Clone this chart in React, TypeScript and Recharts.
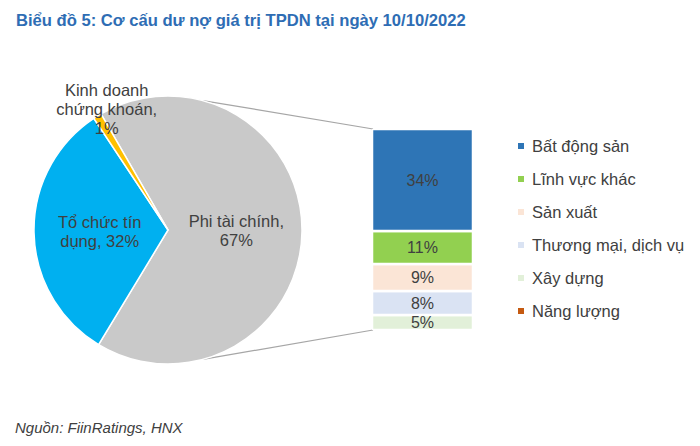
import React from "react";
import { PieChart, Pie, Cell, BarChart, Bar, XAxis, YAxis, LabelList } from "recharts";

// pie: main breakdown
const groupNames = ["Phi tài chính", "Tổ chức tín dụng", "Kinh doanh chứng khoán"];
const groupValues = [67, 32, 1];
const groupColors = ["#C9C9C9", "#00B0F0", "#FFC000"];

// bar: breakdown of "Phi tài chính", top to bottom
const sectorNames = ["Bất động sản", "Lĩnh vực khác", "Sản xuất", "Thương mại, dịch vụ", "Xây dựng", "Năng lượng"];
const sectorValues = [34, 11, 9, 8, 5, 0];
const sectorColors = ["#2E75B6", "#92D050", "#FBE5D6", "#DAE3F3", "#E2F0D9", "#C55A11"];

const FONT = '"Liberation Sans", Arial, sans-serif';
const TEXT = "#404040";

const CX = 168;
const CY = 230;
const R = 134;
const BAR_X = 373;
const BAR_Y = 130;
const BAR_W = 99;
const BAR_H = 199;

const pieData = groupNames.map((name, i) => ({ name, value: groupValues[i] }));
const barRow: Record<string, any> = { cat: groupNames[0] };
sectorNames.forEach((n, i) => (barRow[`s${i}`] = sectorValues[i]));
const barData = [barRow];

const labelLines: Record<string, string[]> = {
  "Phi tài chính": ["Phi tài chính,", "67%"],
  "Tổ chức tín dụng": ["Tổ chức tín", "dụng, 32%"],
  "Kinh doanh chứng khoán": ["Kinh doanh", "chứng khoán,", "1%"],
};

const RAD = Math.PI / 180;

const renderPieLabel = (props: any) => {
  const { cx, cy, midAngle, outerRadius, index, name, value } = props;
  const outside = index === 2;
  const ang = outside ? midAngle - 5 : midAngle;
  const r = outside ? outerRadius + 2 : outerRadius * 0.51;
  const x = cx + r * Math.cos(-ang * RAD);
  const y = cy + r * Math.sin(-ang * RAD);
  const lines = labelLines[name] ?? [`${name}, ${value}%`];
  const lh = 19;
  return (
    <g>
      {lines.map((t, i) => (
        <text
          key={i}
          x={x}
          y={y + (i - (lines.length - 1) / 2) * lh}
          textAnchor="middle"
          dominantBaseline="central"
          fontFamily={FONT}
          fontSize={16.5}
          fill={TEXT}
        >
          {t}
        </text>
      ))}
    </g>
  );
};

const onCircle = (clockDeg: number) => ({
  x: CX + R * Math.sin(clockDeg * RAD),
  y: CY - R * Math.cos(clockDeg * RAD),
});

export default function App() {
  const p1 = onCircle(15);
  const p2 = onCircle(165);
  return (
    <div style={{ position: "absolute", left: 0, top: 0, width: 700, height: 446, background: "#fff", fontFamily: FONT }}>
      <div style={{ position: "absolute", left: 16, top: 11, fontSize: 16.6, fontWeight: "bold", color: "#2E6DB4", whiteSpace: "nowrap" }}>
        Biểu đồ 5: Cơ cấu dư nợ giá trị TPDN tại ngày 10/10/2022
      </div>

      <svg width={700} height={446} style={{ position: "absolute", left: 0, top: 0 }}>
        <line x1={p1.x} y1={p1.y} x2={BAR_X} y2={BAR_Y - 1} stroke="#A6A6A6" strokeWidth={1.2} />
        <line x1={p2.x} y1={p2.y} x2={BAR_X} y2={BAR_Y + BAR_H + 1} stroke="#A6A6A6" strokeWidth={1.2} />
      </svg>

      <div style={{ position: "absolute", left: 0, top: 0 }}>
        <PieChart width={700} height={446} margin={{ top: 0, right: 0, bottom: 0, left: 0 }}>
          <Pie
            data={pieData}
            dataKey="value"
            nameKey="name"
            cx={CX}
            cy={CY}
            outerRadius={R}
            startAngle={120}
            endAngle={-240}
            stroke="#fff"
            strokeWidth={1.5}
            label={renderPieLabel}
            labelLine={false}
            isAnimationActive={false}
          >
            {pieData.map((d, i) => (
              <Cell key={d.name} fill={groupColors[i]} />
            ))}
          </Pie>
        </PieChart>
      </div>

      <div style={{ position: "absolute", left: BAR_X - 1, top: BAR_Y - 1 }}>
        <BarChart
          width={BAR_W + 2}
          height={BAR_H + 2}
          data={barData}
          margin={{ top: 0, right: 0, bottom: 0, left: 0 }}
          barCategoryGap={0}
        >
          <XAxis dataKey="cat" hide />
          <YAxis hide domain={[0, groupValues[0]]} />
          {sectorNames
            .map((n, i) => ({ n, i }))
            .reverse()
            .map(({ n, i }) => (
              <Bar
                key={n}
                dataKey={`s${i}`}
                name={n}
                stackId="a"
                fill={sectorColors[i]}
                stroke="#fff"
                strokeWidth={2.5}
                isAnimationActive={false}
              >
                <LabelList
                  dataKey={`s${i}`}
                  position="center"
                  formatter={(v: any) => (v ? `${v}%` : "")}
                  style={{ fontFamily: FONT, fontSize: 16, fill: TEXT }}
                />
              </Bar>
            ))}
        </BarChart>
      </div>

      {sectorNames.map((n, i) => (
        <div
          key={n}
          style={{
            position: "absolute",
            left: 518,
            top: 146 + i * 33 - 10,
            height: 20,
            display: "flex",
            alignItems: "center",
            fontSize: 16.5,
            color: TEXT,
            whiteSpace: "nowrap",
          }}
        >
          <span style={{ width: 6, height: 6, background: sectorColors[i], marginRight: 8, display: "inline-block" }} />
          {n}
        </div>
      ))}

      <div style={{ position: "absolute", left: 15, top: 419, fontSize: 15, fontStyle: "italic", color: TEXT }}>
        Nguồn: FiinRatings, HNX
      </div>
    </div>
  );
}
